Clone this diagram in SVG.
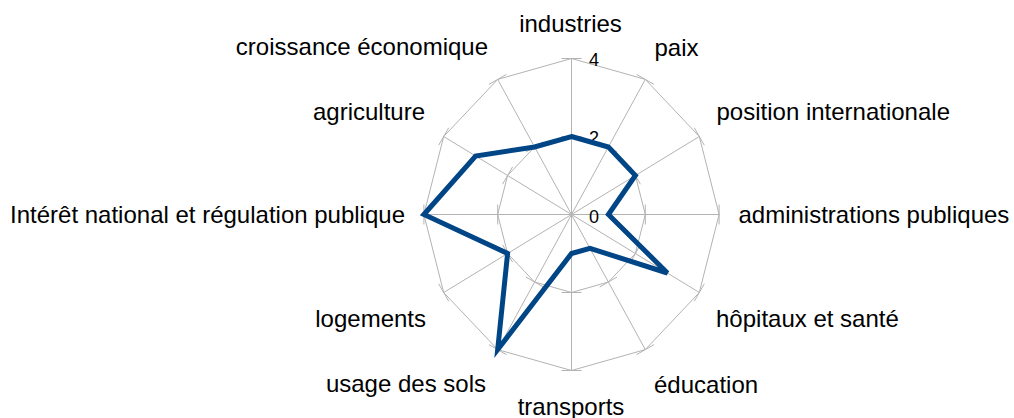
<svg xmlns="http://www.w3.org/2000/svg" width="1014" height="418" viewBox="0 0 1014 418">
<style>
.grid{fill:none;stroke:#b3b3b3;stroke-width:1}
.lbl{font-family:"Liberation Sans",Arial,sans-serif;font-size:24px;fill:#000}
.val{font-family:"Liberation Sans",Arial,sans-serif;font-size:18px;fill:#000}
.data{fill:none;stroke:#004586;stroke-width:5;stroke-linejoin:miter}
</style>
<rect width="1014" height="418" fill="#fff"/>
<g id="grid">
<polygon class="grid" points="571.5,58.5 645.3,79.4 699.3,136.5 719.1,214.5 699.3,292.5 645.3,349.6 571.5,370.5 497.7,349.6 443.7,292.5 423.9,214.5 443.7,136.5 497.7,79.4"/>
<polygon class="grid" points="571.5,136.5 608.4,147 635.4,175.5 645.3,214.5 635.4,253.5 608.4,282 571.5,292.5 534.6,282 507.6,253.5 497.7,214.5 507.6,175.5 534.6,147"/>
<path class="grid" d="M571.5,214.5L571.5,58.5M571.5,214.5L645.3,79.4M571.5,214.5L699.3,136.5M571.5,214.5L719.1,214.5M571.5,214.5L699.3,292.5M571.5,214.5L645.3,349.6M571.5,214.5L571.5,370.5M571.5,214.5L497.7,349.6M571.5,214.5L443.7,292.5M571.5,214.5L423.9,214.5M571.5,214.5L443.7,136.5M571.5,214.5L497.7,79.4"/>
<path class="grid" d="M561.5,58.5L581.5,58.5M636.6,74.4L654,84.4M694.3,127.8L704.3,145.2M719.1,204.5L719.1,224.5M704.3,283.8L694.3,301.2M654,344.6L636.6,354.6M581.5,370.5L561.5,370.5M506.4,354.6L489,344.6M448.7,301.2L438.7,283.8M423.9,224.5L423.9,204.5M438.7,145.2L448.7,127.8M489,84.4L506.4,74.4"/>
<path class="grid" d="M561.5,136.5L581.5,136.5M599.7,142L617.1,152M630.4,166.8L640.4,184.2M645.3,204.5L645.3,224.5M640.4,244.8L630.4,262.2M617.1,277L599.7,287M581.5,292.5L561.5,292.5M543.3,287L525.9,277M512.6,262.2L502.6,244.8M497.7,224.5L497.7,204.5M502.6,184.2L512.6,166.8M525.9,152L543.3,142"/>
</g>
<g id="scale">
<text class="val" x="589" y="66">4</text>
<text class="val" x="589" y="144">2</text>
<text class="val" x="589" y="223">0</text>
</g>
<g id="connectors">
<polygon class="data" points="571.5,136.5 608.4,147 635.4,175.5 608.4,214.5 667.4,273 590,248.3 571.5,253.5 497.7,349.6 507.6,253.5 423.9,214.5 475.6,156 534.6,147"/>
</g>
<g id="n-industries"><text class="lbl" x="570.5" y="31.5" text-anchor="middle">industries</text></g>
<g id="n-paix"><text class="lbl" x="654.5" y="55.5">paix</text></g>
<g id="n-position"><text class="lbl" x="716.5" y="120">position internationale</text></g>
<g id="n-administrations"><text class="lbl" x="738.5" y="223">administrations publiques</text></g>
<g id="n-hopitaux"><text class="lbl" x="716" y="327">hôpitaux et santé</text></g>
<g id="n-education"><text class="lbl" x="654" y="392.5">éducation</text></g>
<g id="n-transports"><text class="lbl" x="571" y="415" text-anchor="middle">transports</text></g>
<g id="n-usage"><text class="lbl" x="486" y="391.5" text-anchor="end">usage des sols</text></g>
<g id="n-logements"><text class="lbl" x="426" y="326.5" text-anchor="end">logements</text></g>
<g id="n-interet"><text class="lbl" x="405" y="223" text-anchor="end">Intérêt national et régulation publique</text></g>
<g id="n-agriculture"><text class="lbl" x="425" y="119.5" text-anchor="end">agriculture</text></g>
<g id="n-croissance"><text class="lbl" x="488" y="55" text-anchor="end">croissance économique</text></g>
</svg>
